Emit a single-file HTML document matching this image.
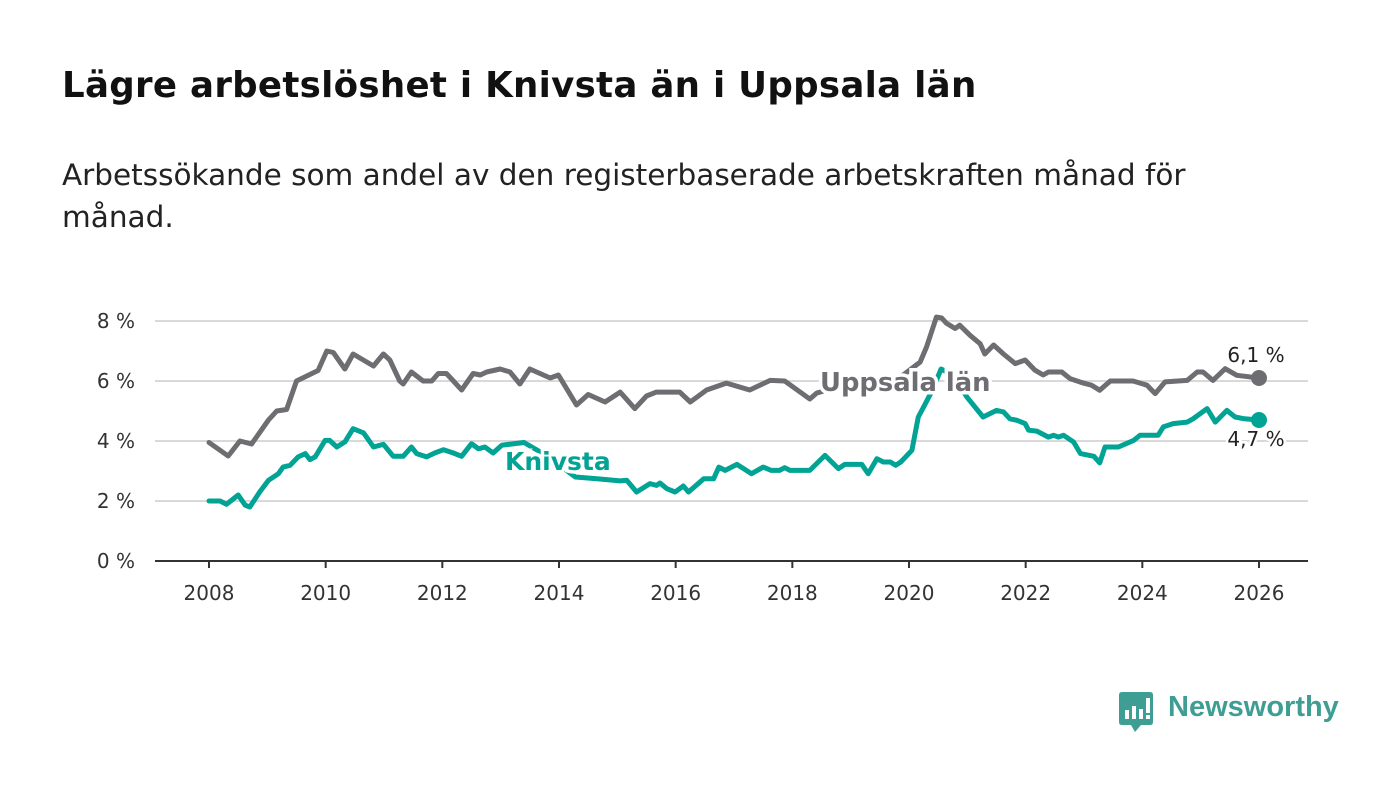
<!DOCTYPE html>
<html><head><meta charset="utf-8">
<style>
body{margin:0;width:1400px;height:794px;background:#fff;font-family:"DejaVu Sans","Liberation Sans",sans-serif;overflow:hidden;position:relative}
#title{position:absolute;left:62px;top:65px;font-size:35.6px;font-weight:bold;color:#111;margin:0;white-space:nowrap;letter-spacing:0.3px}
#sub{position:absolute;left:62px;top:154px;font-size:29.5px;color:#222;line-height:42px;width:1210px}
svg{position:absolute;left:0;top:0}
</style></head><body>
<h1 id="title">Lägre arbetslöshet i Knivsta än i Uppsala län</h1>
<div id="sub">Arbetssökande som andel av den registerbaserade arbetskraften månad för månad.</div>
<svg id="chart" width="1400" height="794"></svg>
<div style="position:absolute;left:1119px;top:692px;height:42px">
<svg width="36" height="44" style="left:0;top:0"><path d="M3 0H31Q34 0 34 3V30Q34 33 31 33H22L16 40L12 33H3Q0 33 0 30V3Q0 0 3 0Z" fill="#3f9e94"/><rect x="6" y="18" width="4" height="9" fill="#fff"/><rect x="13" y="14" width="4" height="13" fill="#fff"/><rect x="20" y="17" width="4" height="10" fill="#fff"/><rect x="27" y="6" width="4" height="15" fill="#fff"/><rect x="27" y="23" width="4" height="4" fill="#fff"/></svg>
<span style="position:absolute;left:49px;top:-1px;font-family:'Liberation Sans',sans-serif;font-size:29px;font-weight:bold;color:#3f9e94;white-space:nowrap">Newsworthy</span>
</div>
<script>
const yTicks=[0,2,4,6,8];
const yTickLabels=["0 %","2 %","4 %","6 %","8 %"];
const xTicks=[2008,2010,2012,2014,2016,2018,2020,2022,2024,2026];
const uppT=[2008.0,2008.33,2008.53,2008.73,2009.02,2009.16,2009.33,2009.5,2009.87,2010.02,2010.13,2010.33,2010.47,2010.82,2010.99,2011.1,2011.27,2011.33,2011.47,2011.67,2011.82,2011.93,2012.07,2012.19,2012.33,2012.53,2012.65,2012.76,2012.99,2013.16,2013.33,2013.5,2013.85,2013.99,2014.3,2014.5,2014.79,2015.05,2015.3,2015.5,2015.67,2016.07,2016.25,2016.53,2016.87,2017.27,2017.62,2017.87,2018.3,2018.42,2018.6,2019.0,2019.5,2019.9,2020.19,2020.3,2020.47,2020.56,2020.64,2020.79,2020.87,2021.05,2021.22,2021.3,2021.45,2021.62,2021.82,2021.99,2022.16,2022.3,2022.39,2022.62,2022.76,2022.99,2023.13,2023.27,2023.45,2023.84,2024.08,2024.22,2024.39,2024.77,2024.94,2025.04,2025.21,2025.42,2025.62,2026.0];
const uppV=[3.95,3.5,4.0,3.9,4.7,5.0,5.05,6.0,6.35,7.0,6.95,6.4,6.9,6.5,6.9,6.7,6.0,5.9,6.3,6.0,6.0,6.25,6.25,6.0,5.7,6.25,6.2,6.3,6.4,6.3,5.9,6.4,6.1,6.2,5.2,5.55,5.3,5.63,5.08,5.5,5.63,5.63,5.3,5.7,5.93,5.7,6.02,6.0,5.4,5.6,5.7,5.9,5.9,6.2,6.63,7.13,8.13,8.1,7.93,7.75,7.86,7.52,7.24,6.9,7.2,6.9,6.58,6.7,6.36,6.2,6.3,6.3,6.08,5.93,5.86,5.69,6.0,6.0,5.86,5.58,5.97,6.02,6.3,6.3,6.02,6.41,6.19,6.1];
const kniT=[2008.0,2008.19,2008.3,2008.5,2008.62,2008.7,2008.87,2009.02,2009.19,2009.27,2009.39,2009.53,2009.65,2009.73,2009.82,2009.99,2010.07,2010.19,2010.33,2010.47,2010.65,2010.82,2010.99,2011.16,2011.33,2011.47,2011.56,2011.73,2011.87,2012.02,2012.19,2012.33,2012.5,2012.62,2012.73,2012.87,2013.02,2013.4,2013.8,2014.28,2014.65,2015.05,2015.16,2015.33,2015.56,2015.67,2015.73,2015.85,2015.99,2016.13,2016.22,2016.48,2016.65,2016.74,2016.85,2017.05,2017.3,2017.5,2017.64,2017.78,2017.87,2017.96,2018.3,2018.56,2018.79,2018.9,2019.19,2019.3,2019.45,2019.56,2019.68,2019.77,2019.86,2020.05,2020.16,2020.25,2020.4,2020.55,2020.75,2020.99,2021.27,2021.5,2021.62,2021.73,2021.85,2021.99,2022.05,2022.19,2022.39,2022.48,2022.56,2022.65,2022.82,2022.94,2023.17,2023.27,2023.36,2023.59,2023.85,2023.96,2024.27,2024.36,2024.53,2024.77,2024.87,2025.11,2025.25,2025.45,2025.59,2025.75,2026.0];
const kniV=[2.0,2.0,1.89,2.2,1.86,1.8,2.3,2.69,2.91,3.13,3.19,3.47,3.58,3.38,3.47,4.02,4.02,3.8,3.97,4.41,4.27,3.8,3.89,3.49,3.49,3.8,3.58,3.47,3.6,3.71,3.6,3.49,3.91,3.74,3.8,3.6,3.86,3.95,3.5,2.8,2.74,2.67,2.69,2.3,2.58,2.52,2.6,2.41,2.3,2.5,2.3,2.74,2.74,3.13,3.02,3.22,2.91,3.13,3.02,3.02,3.11,3.02,3.02,3.52,3.08,3.22,3.22,2.91,3.41,3.3,3.3,3.19,3.3,3.69,4.8,5.13,5.69,6.4,6.2,5.47,4.8,5.02,4.97,4.74,4.69,4.58,4.36,4.33,4.13,4.19,4.13,4.19,3.97,3.58,3.49,3.27,3.8,3.8,4.02,4.19,4.19,4.47,4.58,4.63,4.74,5.08,4.63,5.02,4.8,4.74,4.7];
const NS="http://www.w3.org/2000/svg";
const svg=document.getElementById('chart');
const xs=t=>209+(t-2008)*(1050/18);
const ys=v=>561-v*30;
function mk(tag,attrs,text){const e=document.createElementNS(NS,tag);for(const k in attrs)e.setAttribute(k,attrs[k]);if(text!==undefined)e.textContent=text;svg.appendChild(e);return e;}
yTicks.forEach((v,i)=>{
  if(v>0){const g=mk('line',{x1:155,x2:1308,y1:ys(v),y2:ys(v),stroke:'#d9d9d9','stroke-width':2});
  
  }
  const t=mk('text',{x:135,y:ys(v)+7,'text-anchor':'end','font-size':20,fill:'#333'},yTickLabels[i]);
  
  
});
const ax=mk('line',{x1:155,x2:1308,y1:561,y2:561,stroke:'#333','stroke-width':2});


xTicks.forEach(y=>{
  const tk=mk('line',{x1:xs(y),x2:xs(y),y1:561,y2:568,stroke:'#333','stroke-width':2});
  
  
  const t=mk('text',{x:xs(y),y:600,'text-anchor':'middle','font-size':20,fill:'#333'},String(y));
  
  
});
function line(T,V,color,name){
  const d=T.map((t,i)=>(i?'L':'M')+xs(t).toFixed(1)+' '+ys(V[i]).toFixed(1)).join(' ');
  const p=mk('path',{d:d,fill:'none',stroke:color,'stroke-width':5,'stroke-linejoin':'round','stroke-linecap':'round'});
  
  
  const c=mk('circle',{cx:xs(T[T.length-1]),cy:ys(V[V.length-1]),r:8,fill:color});
  
  
}
line(uppT,uppV,'#6e6d72','uppsala');
line(kniT,kniV,'#00a394','knivsta');
const l1=mk('text',{x:820,y:391,'font-size':25.8,'font-weight':'bold',fill:'#6e6d72',stroke:'#fff','stroke-width':7,'paint-order':'stroke'},'Uppsala län');


const l2=mk('text',{x:505,y:470,'font-size':25,'font-weight':'bold',fill:'#00a394',stroke:'#fff','stroke-width':7,'paint-order':'stroke'},'Knivsta');


const v1=mk('text',{x:1256,y:362,'text-anchor':'middle','font-size':20,fill:'#222',stroke:'#fff','stroke-width':5,'paint-order':'stroke'},'6,1 %');


const v2=mk('text',{x:1256,y:446,'text-anchor':'middle','font-size':20,fill:'#222',stroke:'#fff','stroke-width':5,'paint-order':'stroke'},'4,7 %');


</script>
</body></html>
